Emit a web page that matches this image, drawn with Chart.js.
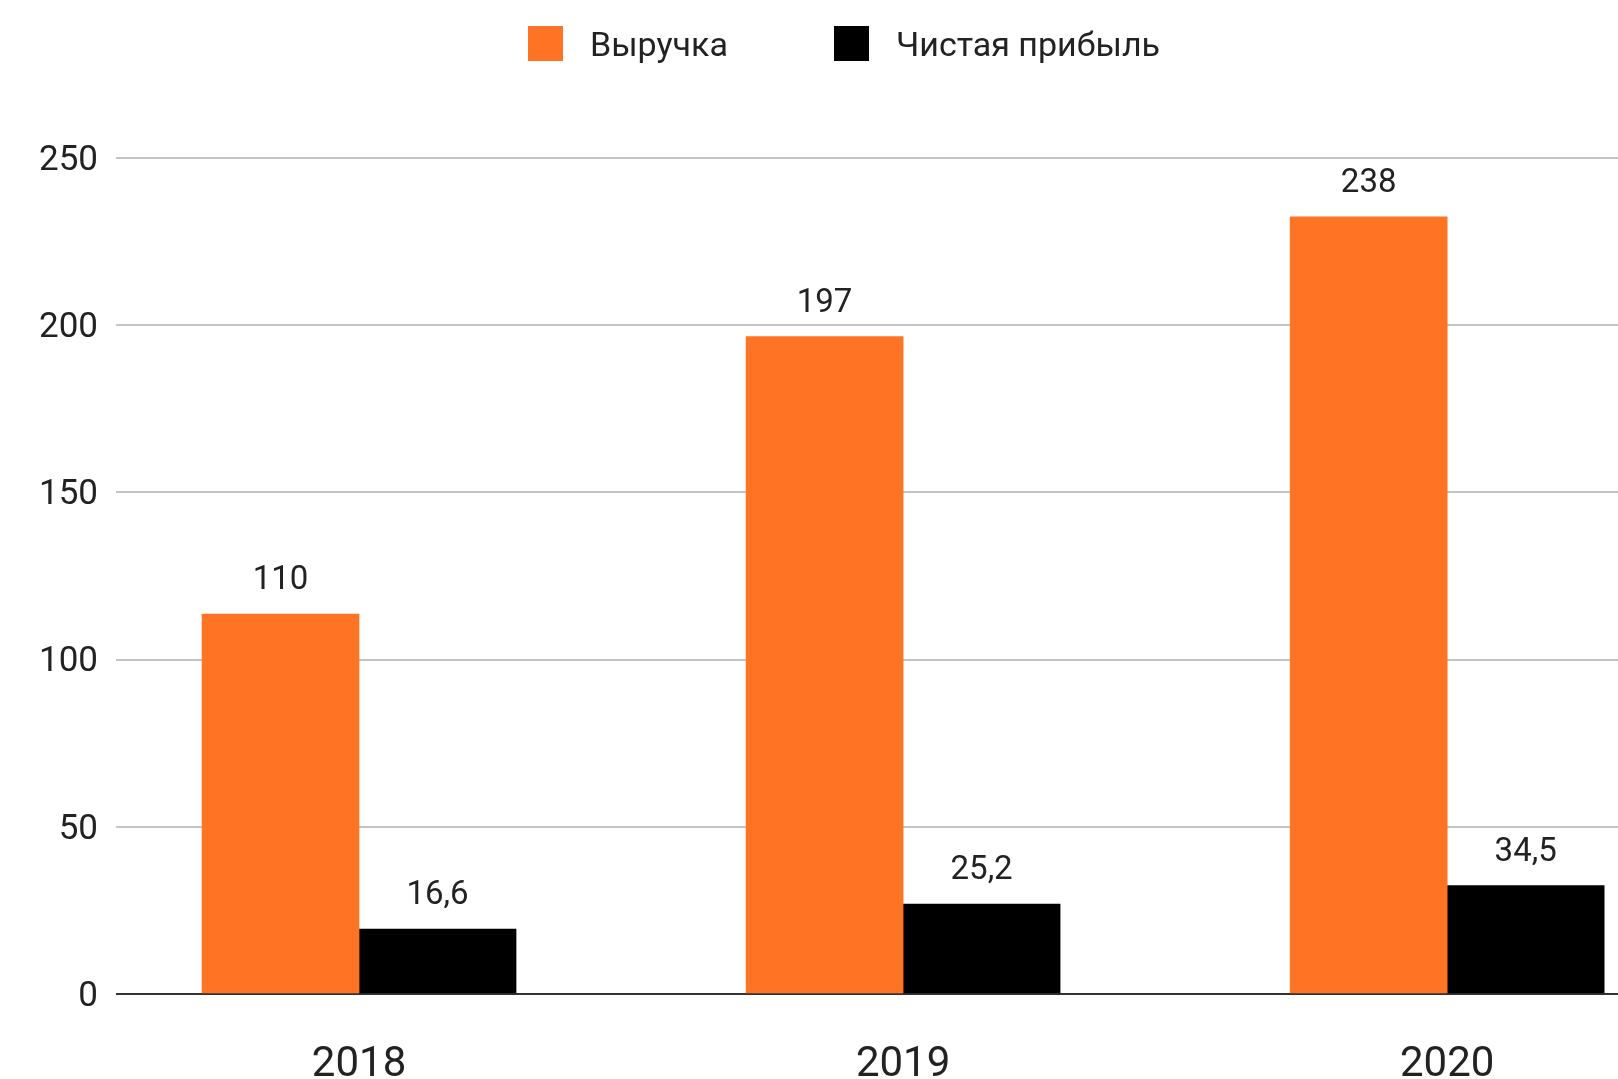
<!DOCTYPE html>
<html lang="ru">
<head>
<meta charset="utf-8">
<title>Выручка и чистая прибыль</title>
<script src="https://cdn.jsdelivr.net/npm/chart.js@4/dist/chart.umd.min.js"></script>
<style>
  html, body { margin: 0; padding: 0; background: #fff; overflow: hidden; }
  #wrap { position: relative; width: 1618px; height: 1079px; }
  #legend { position: absolute; top: 0; left: 0; width: 100%; height: 90px; font-family: Roboto, 'Noto Sans', sans-serif; font-size: 34px; color: #222; }
  .lg-item { position: absolute; top: 26px; display: flex; align-items: center; height: 35px; }
  .lg-box { width: 35px; height: 35px; margin-right: 27px; }
</style>
</head>
<body>
<div id="wrap">
  <canvas id="chart"></canvas>
  <div id="legend"></div>
</div>
<script>
// ── Data ────────────────────────────────────────────────
const years        = ['2018', '2019', '2020'];
const seriesNames  = ['Выручка', 'Чистая прибыль'];
const seriesColors = ['#ff7424', '#000000'];
// bar heights as drawn in the picture
const revenue      = [113.6, 196.6, 232.4];
const netProfit    = [19.4, 26.9, 32.4];
// value labels as printed above the bars
const revenueText  = ['110', '197', '238'];
const profitText   = ['16,6', '25,2', '34,5'];
const yTicks       = [0, 50, 100, 150, 200, 250];

const FONT = "Roboto, 'Noto Sans', sans-serif";

// ── HTML legend ─────────────────────────────────────────
const legendLeft = [528, 834];
const legendEl = document.getElementById('legend');
seriesNames.forEach((name, i) => {
  const it = document.createElement('div');
  it.className = 'lg-item';
  it.style.left = legendLeft[i] + 'px';
  it.innerHTML = `<div class="lg-box" style="background:${seriesColors[i]}"></div><span>${name}</span>`;
  legendEl.appendChild(it);
});

// ── Value labels above bars ─────────────────────────────
const valueLabels = {
  id: 'valueLabels',
  afterDatasetsDraw(chart) {
    const ctx = chart.ctx;
    const texts = [revenueText, profitText];
    ctx.save();
    ctx.font = `33px ${FONT}`;
    ctx.fillStyle = '#222';
    ctx.textAlign = 'center';
    ctx.textBaseline = 'middle';
    chart.data.datasets.forEach((ds, di) => {
      chart.getDatasetMeta(di).data.forEach((bar, i) => {
        ctx.fillText(texts[di][i], bar.x, bar.y - 33);
      });
    });
    ctx.restore();
  }
};

new Chart(document.getElementById('chart').getContext('2d'), {
  type: 'bar',
  data: {
    datasets: [
      { label: seriesNames[0], data: revenue.map((v, i) => ({ x: i, y: v })), backgroundColor: seriesColors[0], barThickness: 157 },
      { label: seriesNames[1], data: netProfit.map((v, i) => ({ x: i, y: v })), backgroundColor: seriesColors[1], barThickness: 157 },
    ]
  },
  options: {
    responsive: true, maintainAspectRatio: false, animation: false,
    layout: { padding: { top: 158, right: 0, left: 0, bottom: 0 } },
    plugins: { legend: { display: false }, tooltip: { enabled: false } },
    scales: {
      x: {
        type: 'linear', min: -0.4467, max: 2.314, offset: false,
        grid: { display: false, drawTicks: false },
        border: { display: false },
        afterBuildTicks: s => { s.ticks = years.map((_, i) => ({ value: i })); },
        afterFit: s => { s.height = 85; },
        ticks: { padding: 46, color: '#222', font: { size: 42, family: FONT }, callback: v => years[v] },
      },
      y: {
        min: 0, max: 250,
        afterBuildTicks: s => { s.ticks = yTicks.map(v => ({ value: v })); },
        afterFit: s => { s.width = 116; },
        border: { display: false },
        grid: {
          drawTicks: false, lineWidth: 2,
          color: c => c.tick && c.tick.value === 0 ? '#333333' : '#c4c4c4',
        },
        ticks: { padding: 18, labelOffset: 3, color: '#222', font: { size: 35, family: FONT } },
      }
    }
  },
  plugins: [valueLabels]
});
</script>
</body>
</html>
